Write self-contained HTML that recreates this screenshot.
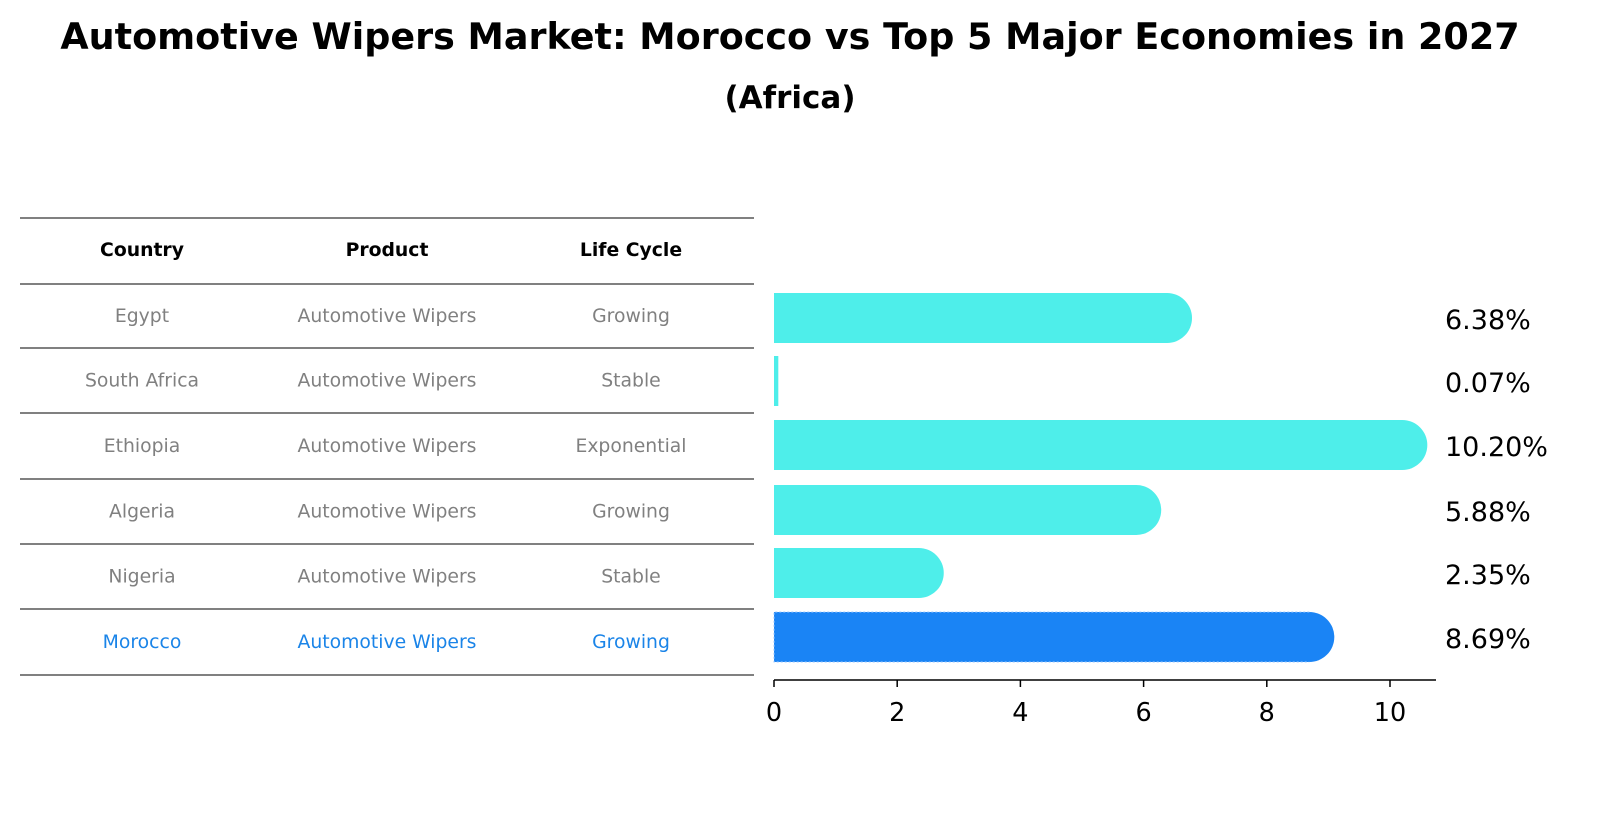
<!DOCTYPE html>
<html><head><meta charset="utf-8"><style>
body{margin:0;background:#fff;font-family:"Liberation Sans","DejaVu Sans",sans-serif;}
svg text{font-family:"DejaVu Sans","Liberation Sans",sans-serif;}
</style></head><body>
<svg id="c" width="1604" height="823" xmlns="http://www.w3.org/2000/svg">
<text x="790" y="49" text-anchor="middle" font-size="36.5" font-weight="bold">Automotive Wipers Market: Morocco vs Top 5 Major Economies in 2027</text>
<text x="790" y="108" text-anchor="middle" font-size="31" font-weight="bold">(Africa)</text>
<g id="table"></g>
<g id="bars"></g>
</svg>
<script>
const countries=["Egypt","South Africa","Ethiopia","Algeria","Nigeria","Morocco"];
const products=["Automotive Wipers","Automotive Wipers","Automotive Wipers","Automotive Wipers","Automotive Wipers","Automotive Wipers"];
const lifecycles=["Growing","Stable","Exponential","Growing","Stable","Growing"];
const values=[6.38,0.07,10.20,5.88,2.35,8.69];
const ticks=[0,2,4,6,8,10];
const NS="http://www.w3.org/2000/svg";
function mk(t,a,p){const e=document.createElementNS(NS,t);for(const k in a)e.setAttribute(k,a[k]);p.appendChild(e);return e;}
const tb=document.getElementById('table');
const lineYs=[218,284,348,413,479,544,609,675];
lineYs.forEach(y=>{const l=mk('line',{x1:20,x2:754,y1:y,y2:y,stroke:'#000','stroke-width':1},tb);

});
const colX=[142,387,631];
["Country","Product","Life Cycle"].forEach((h,i)=>{const t=mk('text',{x:colX[i],y:256,'text-anchor':'middle','font-size':18.8,'font-weight':'bold'},tb);t.textContent=h;

});
countries.forEach((c,r)=>{const y=(lineYs[r+1]+lineYs[r+2])/2+6;const col=c==="Morocco"?'#1a84e8':'#808080';
[c,products[r],lifecycles[r]].forEach((v,i)=>{const t=mk('text',{x:colX[i],y:y,'text-anchor':'middle','font-size':18.8,fill:col},tb);t.textContent=v;

});});
const g=document.getElementById('bars');
const x0=774,sx=61.6;const X=v=>x0+v*sx;
const rowY=[318,381,445,510,573,637];const bh=50,r=25;
values.forEach((v,i)=>{const col=countries[i]==="Morocco"?'#1a84f5':'#4eeeea';const y=rowY[i];
const w=X(v)-x0;
const rc=mk('rect',{x:x0,y:y-bh/2,width:Math.max(w,1),height:bh,fill:col},g);


if(v>1){const ci=mk('circle',{cx:X(v),cy:y,r:r,fill:col},g);

}
if(countries[i]==="Morocco"){const o=mk('path',{d:`M${X(v)},${y-bh/2}H${x0}V${y+bh/2}H${X(v)}`,fill:'none',stroke:'#9cc8ff','stroke-width':1,'stroke-dasharray':'2,2'},g);

}
const t=mk('text',{x:1445,y:y+11,'font-size':27},g);t.textContent=v.toFixed(2)+'%';

});
const ax=mk('line',{x1:x0,x2:1436,y1:680,y2:680,stroke:'#000','stroke-width':1.5},g);


ticks.forEach(t=>{const l=mk('line',{x1:X(t),x2:X(t),y1:680,y2:687,stroke:'#000','stroke-width':1.5},g);


const tx=mk('text',{x:X(t),y:721,'text-anchor':'middle','font-size':25.5},g);tx.textContent=t;

});
</script>
</body></html>
